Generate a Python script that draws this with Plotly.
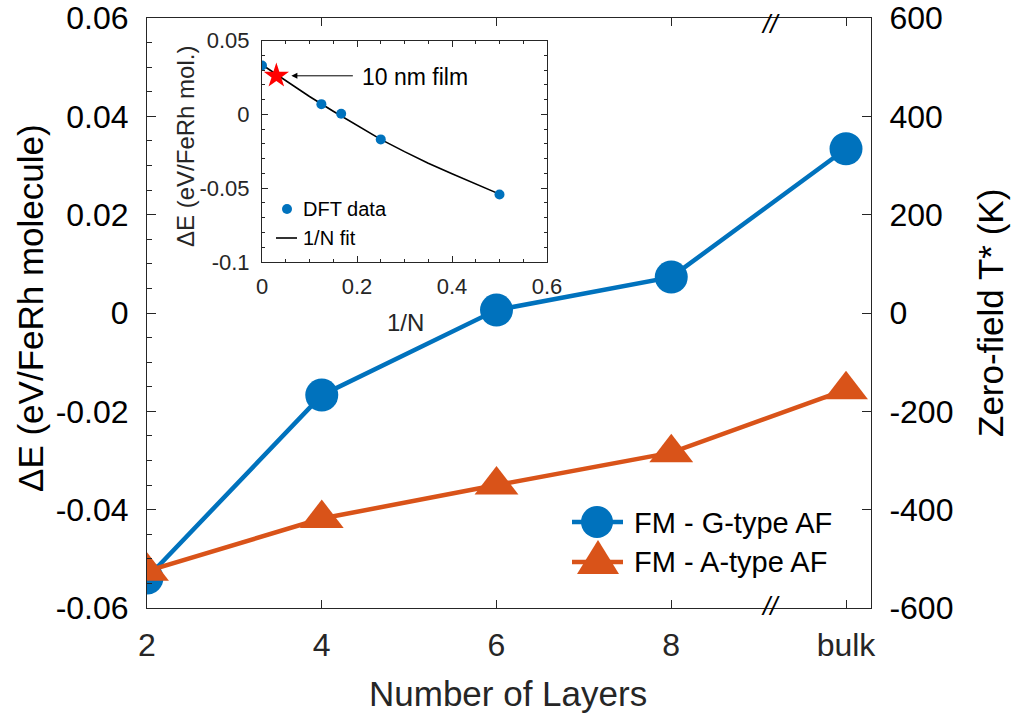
import plotly.graph_objects as go

# ---------------- data ----------------
layers = [2, 4, 6, 8, 10]                 # 10 == "bulk"
layer_ticktext = ["2", "4", "6", "8", "bulk"]
g_type = [-0.0539, -0.0167, 0.0006, 0.0073, 0.0334]   # FM - G-type AF (eV)
a_type = [-0.0525, -0.0418, -0.0350, -0.0284, -0.0156] # FM - A-type AF (eV)

inv_n = [0.0, 0.125, 0.1667, 0.25, 0.5]
dft_y = [0.0332, 0.0070, 0.0005, -0.0169, -0.0543]
fit_x = [0.0, 0.05, 0.1, 0.15, 0.2, 0.25, 0.3, 0.35, 0.4, 0.45, 0.5]
fit_y = [0.0337, 0.0228, 0.0122, 0.0022, -0.0074, -0.0169, -0.0252, -0.0330, -0.0402, -0.0473, -0.0540]
film_x = [0.0302]
film_y = [0.0262]

left_ticks = [-0.06, -0.04, -0.02, 0, 0.02, 0.04, 0.06]
left_ticktext = ["-0.06", "-0.04", "-0.02", "0", "0.02", "0.04", "0.06"]
right_ticks = [-600, -400, -200, 0, 200, 400, 600]
right_ticktext = ["-600", "-400", "-200", "0", "200", "400", "600"]
inset_xticks = [0, 0.2, 0.4, 0.6]
inset_xticktext = ["0", "0.2", "0.4", "0.6"]
inset_yticks = [-0.1, -0.05, 0, 0.05]
inset_yticktext = ["-0.1", "-0.05", "0", "0.05"]

# ---------------- style ----------------
BLUE = "#0072BD"
ORANGE = "#D95319"
AX = "#262626"
FONT = "Liberation Sans, Arial, sans-serif"
FW, FH = 1011, 717
L, R, T, B = 147, 871, 18, 608
PW, PH = R - L, B - T


def px(x):
    return (x - L) / PW


def py(y):
    return (B - y) / PH


fig = go.Figure()

fig.add_trace(go.Scatter(
    x=layers, y=g_type, mode="lines+markers", name="FM - G-type AF",
    line=dict(color=BLUE, width=4.5),
    marker=dict(symbol="circle", size=33, color=BLUE, line=dict(width=0)),
    cliponaxis=True, showlegend=False))
fig.add_trace(go.Scatter(
    x=layers, y=a_type, mode="lines+markers", name="FM - A-type AF",
    line=dict(color=ORANGE, width=4.5),
    marker=dict(symbol="triangle-up", size=38, color=ORANGE, line=dict(width=0)),
    cliponaxis=True, showlegend=False))
# right axis carrier
fig.add_trace(go.Scatter(x=[], y=[], yaxis="y3", showlegend=False, hoverinfo="skip"))

# inset
fig.add_trace(go.Scatter(
    x=fit_x, y=fit_y, mode="lines", xaxis="x2", yaxis="y2",
    line=dict(color="black", width=1.6), showlegend=False))
fig.add_trace(go.Scatter(
    x=inv_n, y=dft_y, mode="markers", xaxis="x2", yaxis="y2",
    marker=dict(size=10, color=BLUE, line=dict(width=0)), showlegend=False))
fig.add_trace(go.Scatter(
    x=film_x, y=film_y, mode="markers", xaxis="x2", yaxis="y2",
    marker=dict(symbol="star", size=19, color="#FF0000", line=dict(width=0)),
    showlegend=False))

common = dict(showgrid=False, zeroline=False, showline=True, linecolor=AX, linewidth=1,
              tickcolor=AX, tickwidth=1, ticks="inside", automargin=False,
              ticklabeloverflow="allow")

fig.update_layout(
    width=FW, height=FH,
    margin=dict(l=L, r=FW - R, t=T, b=FH - B, pad=0, autoexpand=False),
    paper_bgcolor="white", plot_bgcolor="white",
    font=dict(family=FONT, color=AX),
    xaxis=dict(**common, range=[2, 10.286], tickvals=layers, ticktext=layer_ticktext,
               ticklen=8, mirror="ticks", tickfont=dict(size=32, color=AX),
               ticklabelstandoff=9, domain=[0, 1]),
    yaxis=dict(**common, range=[-0.06, 0.06], tickvals=left_ticks, ticktext=left_ticktext,
               ticklen=9, tickfont=dict(size=32, color="black"), ticklabelstandoff=11,
               minor=dict(dtick=0.005, ticks="inside", ticklen=5, tickcolor=AX),
               domain=[0, 1]),
    yaxis3=dict(**common, range=[-600, 600], tickvals=right_ticks, ticktext=right_ticktext,
                overlaying="y", side="right", anchor="x", ticklen=9,
                tickfont=dict(size=32, color="black"), ticklabelstandoff=11),
    xaxis2=dict(**common, domain=[px(262), px(547)], anchor="y2", range=[0, 0.6],
                tickvals=inset_xticks, ticktext=inset_xticktext, ticklen=6, mirror="ticks",
                minor=dict(dtick=0.05, ticks="inside", ticklen=3, tickcolor=AX),
                tickfont=dict(size=22, color=AX), ticklabelstandoff=5),
    yaxis2=dict(**common, domain=[py(262), py(40.7)], anchor="x2", range=[-0.1, 0.05],
                tickvals=inset_yticks, ticktext=inset_yticktext, ticklen=6, mirror="ticks",
                minor=dict(dtick=0.01, ticks="inside", ticklen=3, tickcolor=AX),
                tickfont=dict(size=22, color=AX), ticklabelstandoff=7),
)

ann = []
# axis titles
ann.append(dict(text="Number of Layers", x=px(508), y=py(693), xref="paper", yref="paper",
                showarrow=False, font=dict(size=35, color=AX), xanchor="center", yanchor="middle"))
ann.append(dict(text="ΔE (eV/FeRh molecule)", x=px(30), y=py(308), xref="paper", yref="paper",
                showarrow=False, textangle=-90, font=dict(size=35, color="black"),
                xanchor="center", yanchor="middle"))
ann.append(dict(text="Zero-field T* (K)", x=px(990), y=py(313), xref="paper", yref="paper",
                showarrow=False, textangle=-90, font=dict(size=35, color="black"),
                xanchor="center", yanchor="middle"))
# inset titles
ann.append(dict(text="1/N", x=px(405), y=py(322), xref="paper", yref="paper",
                showarrow=False, font=dict(size=24, color=AX), xanchor="center", yanchor="middle"))
ann.append(dict(text="ΔE (eV/FeRh mol.)", x=px(185), y=py(147), xref="paper", yref="paper",
                showarrow=False, textangle=-90, font=dict(size=24, color=AX),
                xanchor="center", yanchor="middle"))
# film annotation
ann.append(dict(text="10 nm film", x=px(360), y=py(77), xref="paper", yref="paper",
                showarrow=False, font=dict(size=23, color="black"), xanchor="left", yanchor="middle"))
ann.append(dict(text="", x=film_x[0], y=film_y[0], xref="x2", yref="y2",
                showarrow=True, ax=78, ay=0, arrowhead=2, arrowsize=1.2, arrowwidth=1,
                arrowcolor="black", standoff=15))
# break marks
for yy in (py(24), py(606)):
    ann.append(dict(text="<i>//</i>", x=9.14, y=yy, xref="x", yref="paper", showarrow=False,
                    font=dict(size=26, color="black"), xanchor="center", yanchor="middle"))
# main legend text
ann.append(dict(text="FM - G-type AF", x=px(632), y=py(523), xref="paper", yref="paper",
                showarrow=False, font=dict(size=29, color="black"), xanchor="left", yanchor="middle"))
ann.append(dict(text="FM - A-type AF", x=px(632), y=py(562), xref="paper", yref="paper",
                showarrow=False, font=dict(size=29, color="black"), xanchor="left", yanchor="middle"))
# inset legend text
ann.append(dict(text="DFT data", x=px(301), y=py(209), xref="paper", yref="paper",
                showarrow=False, font=dict(size=20, color="black"), xanchor="left", yanchor="middle"))
ann.append(dict(text="1/N fit", x=px(301), y=py(238), xref="paper", yref="paper",
                showarrow=False, font=dict(size=20, color="black"), xanchor="left", yanchor="middle"))
fig.update_layout(annotations=ann)

shapes = []
# main legend glyphs
shapes.append(dict(type="line", xref="paper", yref="paper", x0=px(572), x1=px(623),
                   y0=py(522), y1=py(522), line=dict(color=BLUE, width=4.5), layer="above"))
shapes.append(dict(type="circle", xref="paper", yref="paper", xsizemode="pixel", ysizemode="pixel",
                   xanchor=px(597), yanchor=py(522), x0=-16, x1=16, y0=-16, y1=16,
                   fillcolor=BLUE, line=dict(width=0), layer="above"))
shapes.append(dict(type="line", xref="paper", yref="paper", x0=px(572), x1=px(623),
                   y0=py(562), y1=py(562), line=dict(color=ORANGE, width=4.5), layer="above"))
shapes.append(dict(type="path", xref="paper", yref="paper", xsizemode="pixel", ysizemode="pixel",
                   xanchor=px(598), yanchor=py(562), path="M -21,-12 L 21,-12 L 0,22 Z",
                   fillcolor=ORANGE, line=dict(width=0), layer="above"))
# inset legend glyphs
shapes.append(dict(type="circle", xref="paper", yref="paper", xsizemode="pixel", ysizemode="pixel",
                   xanchor=px(287), yanchor=py(209), x0=-5, x1=5, y0=-5, y1=5,
                   fillcolor=BLUE, line=dict(width=0), layer="above"))
shapes.append(dict(type="line", xref="paper", yref="paper", x0=px(276), x1=px(297),
                   y0=py(238), y1=py(238), line=dict(color="black", width=1.6), layer="above"))
fig.update_layout(shapes=shapes)

fig.write_html("out.html")
